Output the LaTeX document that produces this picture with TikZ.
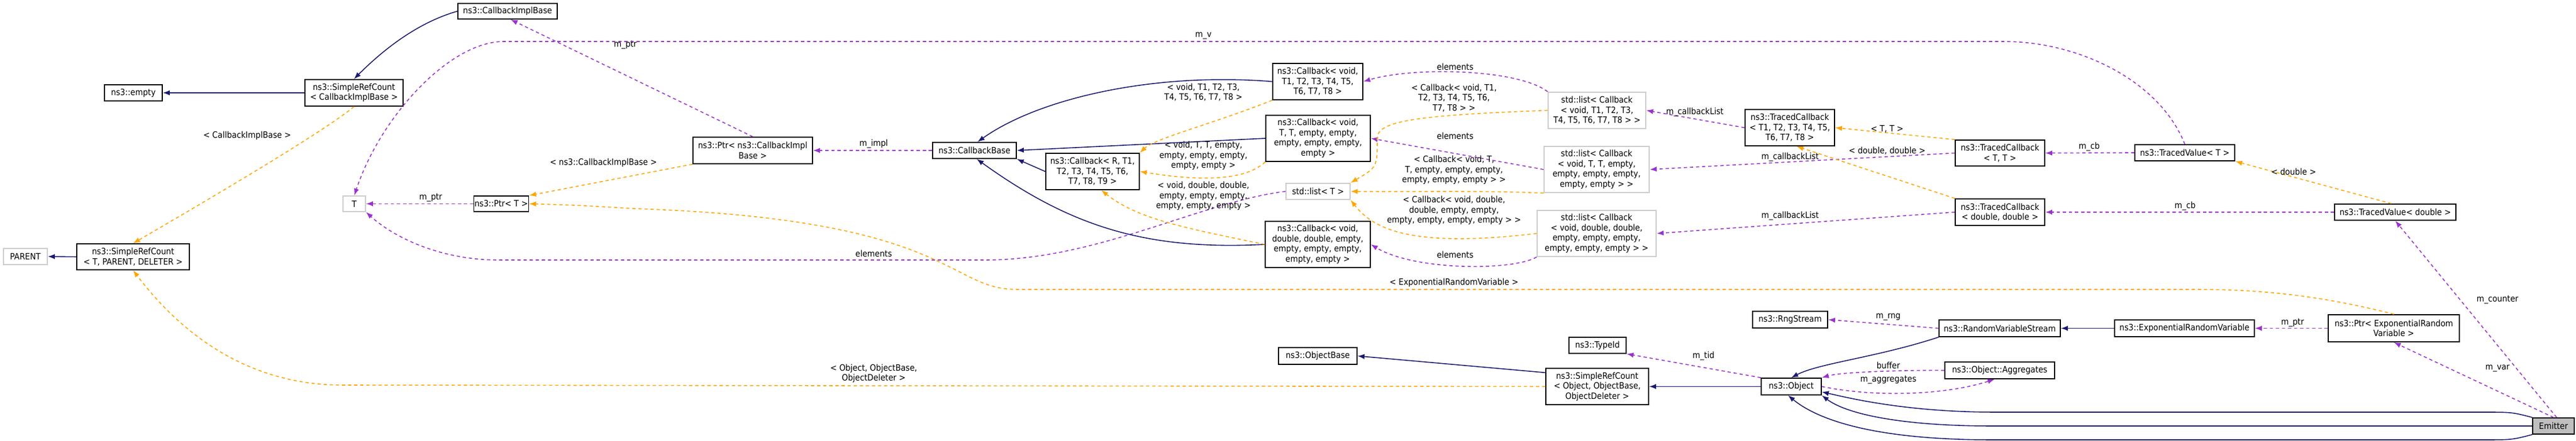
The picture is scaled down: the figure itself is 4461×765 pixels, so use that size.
\documentclass[tikz,border=0pt]{standalone}
\usepackage{fontspec}
\setmainfont{DejaVu Sans Condensed}
\usetikzlibrary{arrows.meta}
\definecolor{inhcol}{HTML}{191970}
\definecolor{usecol}{HTML}{9A32CD}
\definecolor{tplcol}{HTML}{FFA500}
\begin{document}
\begin{tikzpicture}[x=0.01cm,y=-0.01cm,
    every node/.style={font=\fontsize{4.3}{5}\selectfont, inner sep=0pt},
    cls/.style={draw=black, line width=0.5pt, fill=white, align=center},
    ext/.style={draw=black!20, line width=0.5pt, fill=white, align=center},
    inh/.style={draw=inhcol, line width=0.45pt, -{Latex[length=1.2mm,width=0.9mm]}},
    use/.style={draw=usecol, line width=0.45pt, dash pattern=on 1.6pt off 1.4pt, -{Latex[length=1.2mm,width=0.9mm]}},
    tpl/.style={draw=tplcol, line width=0.45pt, dash pattern=on 1.6pt off 1.4pt, -{Latex[length=1.2mm,width=0.9mm]}},
    lbl/.style={align=center}]
    \useasboundingbox (0,0) rectangle (4461,765);
    % left part
    \node [cls, minimum width=1.72cm, minimum height=0.27cm] (cib) at (879,19.5) {ns3::CallbackImplBase};
    \node [cls, minimum width=1.70cm, minimum height=0.46cm] (srccib) at (613,161) {ns3::SimpleRefCount\\< CallbackImplBase >};
    \node [cls, minimum width=1.00cm, minimum height=0.28cm] (empty) at (231,161) {ns3::empty};
    \node [cls, minimum width=1.95cm, minimum height=0.45cm] (srctpd) at (230.5,445.5) {ns3::SimpleRefCount\\< T, PARENT, DELETER >};
    \node [ext, minimum width=0.76cm, minimum height=0.28cm] (parent) at (44,445) {PARENT};
    \node [ext, minimum width=0.39cm, minimum height=0.27cm] (T) at (613.5,353.5) {T};
    \node [cls, minimum width=0.95cm, minimum height=0.27cm] (ptrt) at (868,353.5) {ns3::Ptr< T >};
    \node [cls, minimum width=2.07cm, minimum height=0.46cm] (ptrcib) at (1303.5,261) {ns3::Ptr< ns3::CallbackImpl\\Base >};
    \node [cls, minimum width=1.45cm, minimum height=0.28cm] (cbbase) at (1687.5,261) {ns3::CallbackBase};
    \node [cls, minimum width=1.62cm, minimum height=0.63cm] (cbR) at (1892,297.5) {ns3::Callback< R, T1,\\T2, T3, T4, T5, T6,\\T7, T8, T9 >};
    % callbacks and lists
    \node [cls, minimum width=1.56cm, minimum height=0.63cm] (cbT18) at (2282,141.5) {ns3::Callback< void,\\T1, T2, T3, T4, T5,\\T6, T7, T8 >};
    \node [cls, minimum width=1.81cm, minimum height=0.80cm] (cbTT) at (2282.5,240) {ns3::Callback< void,\\T, T, empty, empty,\\empty, empty, empty,\\empty >};
    \node [ext, minimum width=1.11cm, minimum height=0.28cm] (listT) at (2282.5,332) {std::list< T >};
    \node [cls, minimum width=1.82cm, minimum height=0.80cm] (cbdd) at (2282,424) {ns3::Callback< void,\\double, double, empty,\\empty, empty, empty,\\empty, empty >};
    \node [ext, minimum width=1.69cm, minimum height=0.63cm] (lT18) at (2765.5,191.5) {std::list< Callback\\< void, T1, T2, T3,\\T4, T5, T6, T7, T8 > >};
    \node [ext, minimum width=1.82cm, minimum height=0.80cm] (lTT) at (2765,294) {std::list< Callback\\< void, T, T, empty,\\empty, empty, empty,\\empty, empty > >};
    \node [ext, minimum width=2.06cm, minimum height=0.80cm] (ldd) at (2765,405) {std::list< Callback\\< void, double, double,\\empty, empty, empty,\\empty, empty, empty > >};
    \node [cls, minimum width=1.55cm, minimum height=0.63cm] (tcT18) at (3099.5,221.5) {ns3::TracedCallback\\< T1, T2, T3, T4, T5,\\T6, T7, T8 >};
    \node [cls, minimum width=1.55cm, minimum height=0.45cm] (tcTT) at (3463.5,265.5) {ns3::TracedCallback\\< T, T >};
    \node [cls, minimum width=1.73cm, minimum height=0.28cm] (tvT) at (3783.5,265) {ns3::TracedValue< T >};
    \node [cls, minimum width=1.55cm, minimum height=0.46cm] (tcdd) at (3463.5,368) {ns3::TracedCallback\\< double, double >};
    \node [cls, minimum width=2.10cm, minimum height=0.28cm] (tvd) at (4148,368) {ns3::TracedValue< double >};
    % object part
    \node [cls, minimum width=1.30cm, minimum height=0.29cm] (rng) at (3100,554.5) {ns3::RngStream};
    \node [cls, minimum width=2.10cm, minimum height=0.29cm] (rvs) at (3463,569.5) {ns3::RandomVariableStream};
    \node [cls, minimum width=2.42cm, minimum height=0.29cm] (erv) at (3783,569.5) {ns3::ExponentialRandomVariable};
    \node [cls, minimum width=2.27cm, minimum height=0.47cm] (ptrerv) at (4145.5,569.5) {ns3::Ptr< ExponentialRandom\\Variable >};
    \node [cls, minimum width=0.99cm, minimum height=0.28cm] (typeid) at (2766.5,599) {ns3::TypeId};
    \node [cls, minimum width=1.36cm, minimum height=0.29cm] (objbase) at (2282,617.5) {ns3::ObjectBase};
    \node [cls, minimum width=1.78cm, minimum height=0.63cm] (srcobj) at (2766,670.5) {ns3::SimpleRefCount\\< Object, ObjectBase,\\ObjectDeleter >};
    \node [cls, minimum width=1.04cm, minimum height=0.29cm] (object) at (3102,670.5) {ns3::Object};
    \node [cls, minimum width=1.90cm, minimum height=0.29cm] (aggr) at (3463,642.5) {ns3::Object::Aggregates};
    \node [cls, fill=black!25, minimum width=0.72cm, minimum height=0.28cm] (emitter) at (4422,739) {Emitter};
    % connectors
    \draw [inh] (srccib.west) -- (empty.east);
    \draw [inh] (cib.west) .. controls (720,40) and (660,90) .. (srccib.north);
    \draw [inh] (srctpd.west) -- (parent.east);
    \draw [tpl] (srccib.south) .. controls (560,230) and (320,370) .. (srctpd.north);
    \node [lbl] (l1) at (428,235) {< CallbackImplBase >};
    \draw [use] (ptrcib.north) -- (cib.-70);
    \node [lbl] (l2) at (1083,78) {m\_ptr};
    \draw [use] (tvT.north) .. controls (3740,140) and (3600,72) .. (3470,72) -- (872,72) .. controls (780,72) and (660,200) .. (T.north);
    \node [lbl] (l3) at (2084,62) {m\_v};
    \draw [use] (ptrt.west) -- (T.east);
    \node [lbl] (l4) at (746,343) {m\_ptr};
    \draw [use] (listT.west) .. controls (2080,350) and (1900,451) .. (1707,451) -- (863,451) .. controls (760,451) and (680,410) .. (T.south east);
    \node [lbl] (l5) at (1513,440) {elements};
    \draw [tpl] (ptrerv.north) .. controls (4010,510) and (3900,502) .. (3804,502) -- (1760,502) .. controls (1640,502) and (1650,380) .. (1100,362) .. controls (1000,356) .. (ptrt.east);
    \node [lbl] (l6) at (2518,490) {< ExponentialRandomVariable >};
    \draw [tpl] (ptrcib.south west) -- (ptrt.north east);
    \node [lbl] (l7) at (1045,282) {< ns3::CallbackImplBase >};
    \draw [use] (cbbase.west) -- (ptrcib.east);
    \node [lbl] (l8) at (1513,250) {m\_impl};
    \draw [inh] (cbT18.west) .. controls (2000,125) and (1800,170) .. (cbbase.70);
    \draw [inh] (cbTT.west) -- (cbbase.east);
    \draw [inh] (cbR.west) -- (cbbase.south east);
    \draw [inh] (cbdd.west) .. controls (1980,435) and (1850,390) .. (cbbase.-75);
    \draw [tpl] (cbT18.south west) .. controls (2100,215) and (2000,240) .. (cbR.north east);
    \node [lbl] (l9) at (2084,160) {< void, T1, T2, T3,\\T4, T5, T6, T7, T8 >};
    \draw [tpl] (cbTT.south west) .. controls (2150,320) and (2050,310) .. (cbR.east);
    \node [lbl] (l10) at (2084,270) {< void, T, T, empty,\\empty, empty, empty,\\empty, empty >};
    \draw [tpl] (cbdd.west) .. controls (2050,395) and (1970,380) .. (cbR.-65);
    \node [lbl] (l11) at (2084,340) {< void, double, double,\\empty, empty, empty,\\empty, empty, empty >};
    \draw [use] (lT18.north west) .. controls (2630,120) and (2450,115) .. (cbT18.east);
    \node [lbl] (l12) at (2520,116) {elements};
    \draw [use] (lTT.west) -- (cbTT.east);
    \node [lbl] (l13) at (2520,236) {elements};
    \draw [use] (ldd.south west) .. controls (2620,470) and (2450,470) .. (cbdd.east);
    \node [lbl] (l14) at (2520,442) {elements};
    \draw [tpl] (lT18.west) .. controls (2450,200) and (2385,210) .. (2385,240) .. controls (2385,290) .. (listT.north east);
    \node [lbl] (l15) at (2518,170) {< Callback< void, T1,\\T2, T3, T4, T5, T6,\\T7, T8 > >};
    \draw [tpl] (lTT.south west) .. controls (2550,330) and (2450,333) .. (listT.east);
    \node [lbl] (l16) at (2518,295) {< Callback< void, T,\\T, empty, empty, empty,\\empty, empty, empty > >};
    \draw [tpl] (ldd.west) .. controls (2450,430) and (2380,400) .. (listT.south east);
    \node [lbl] (l17) at (2518,365) {< Callback< void, double,\\double, empty, empty,\\empty, empty, empty, empty > >};
    \draw [use] (tcT18.west) -- (lT18.east);
    \node [lbl] (l18) at (2935,195) {m\_callbackList};
    \draw [use] (tcTT.west) -- (lTT.east);
    \node [lbl] (l19) at (3100,273) {m\_callbackList};
    \draw [use] (tcdd.west) -- (ldd.east);
    \node [lbl] (l20) at (3100,375) {m\_callbackList};
    \draw [tpl] (tcTT.north west) -- (tcT18.east);
    \node [lbl] (l21) at (3268,224) {< T, T >};
    \draw [tpl] (tcdd.north west) -- (tcT18.-70);
    \node [lbl] (l22) at (3268,262) {< double, double >};
    \draw [use] (tvT.west) -- (tcTT.east);
    \node [lbl] (l23) at (3618,255) {m\_cb};
    \draw [use] (tvd.west) -- (tcdd.east);
    \node [lbl] (l24) at (3784,358) {m\_cb};
    \draw [tpl] (tvd.115) -- (tvT.south east);
    \node [lbl] (l25) at (3972,298) {< double >};
    \draw [use] (emitter.70) -- (tvd.south);
    \node [lbl] (l26) at (4325,520) {m\_counter};
    \draw [use] (emitter.north) -- (ptrerv.south);
    \node [lbl] (l27) at (4325,639) {m\_var};
    \draw [use] (ptrerv.west) -- (erv.east);
    \node [lbl] (l28) at (3970,560) {m\_ptr};
    \draw [inh] (erv.west) -- (rvs.east);
    \draw [use] (rvs.west) -- (rng.east);
    \node [lbl] (l29) at (3270,550) {m\_rng};
    \draw [inh] (rvs.south west) .. controls (3250,620) and (3150,630) .. (object.north);
    \draw [use] (object.north west) -- (typeid.south east);
    \node [lbl] (l30) at (2950,618) {m\_tid};
    \draw [use] (aggr.west) .. controls (3300,642) and (3190,645) .. (object.north east);
    \node [lbl] (l31) at (3270,634) {buffer};
    \draw [use] (object.east) .. controls (3250,690) and (3370,685) .. (aggr.-120);
    \node [lbl] (l32) at (3270,659) {m\_aggregates};
    \draw [inh] (object.west) -- (srcobj.east);
    \draw [inh] (srcobj.165) -- (objbase.east);
    \draw [tpl] (srcobj.west) -- (593,668) .. controls (450,668) and (330,600) .. (srctpd.south);
    \node [lbl] (l33) at (1513,648) {< Object, ObjectBase,\\ObjectDeleter >};
    \draw [inh] (emitter.north west) .. controls (4350,715) .. (4300,715) -- (3456,715) .. controls (3300,715) and (3200,690) .. (object.-10);
    \draw [inh] (emitter.west) -- (3450,739) .. controls (3300,739) and (3200,720) .. (object.south east);
    \draw [inh] (emitter.south west) .. controls (4350,763) .. (4300,763) -- (3450,763) .. controls (3250,763) and (3150,730) .. (object.-110);
\end{tikzpicture}
\end{document}
